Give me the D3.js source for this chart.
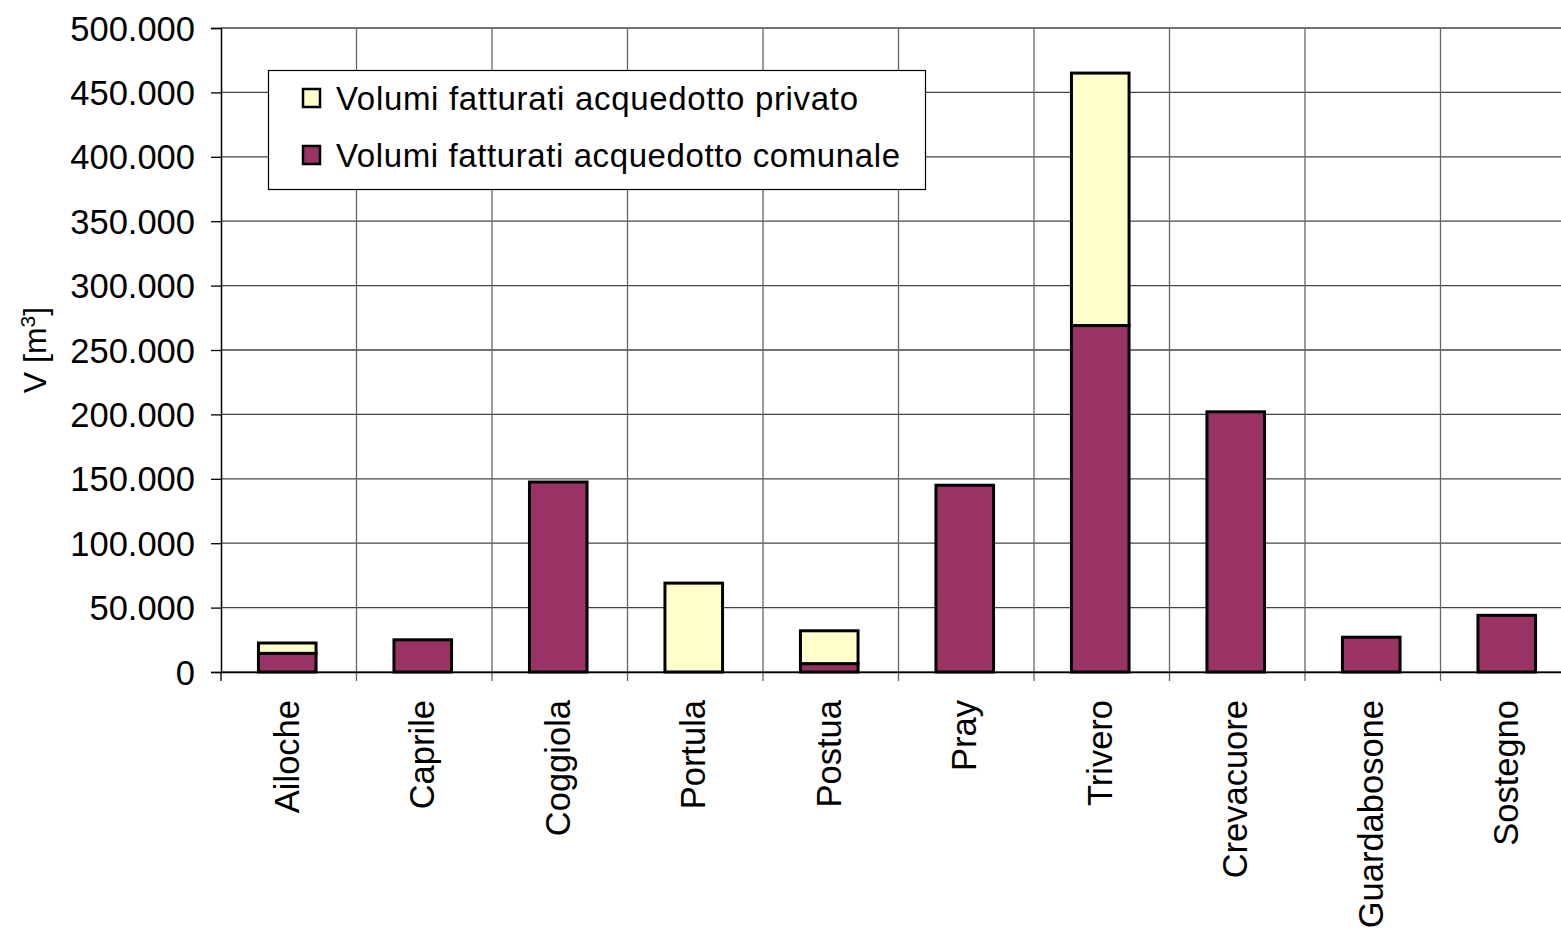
<!DOCTYPE html>
<html><head><meta charset="utf-8">
<script src="https://cdn.jsdelivr.net/npm/d3@7"></script>
<style>body{margin:0;background:#fff}svg{display:block}text{font-family:"Liberation Sans",Arial,sans-serif;fill:#000}</style>
</head><body>
<script>
const categories = ["Ailoche","Caprile","Coggiola","Portula","Postua","Pray","Trivero","Crevacuore","Guardabosone","Sostegno"];
const comunale = [14500, 25000, 147500, 0, 6500, 145000, 269000, 202000, 27000, 44000];
const privato  = [8000, 0, 0, 69000, 25500, 0, 196000, 0, 0, 0];
const seriesNames = ["Volumi fatturati acquedotto privato","Volumi fatturati acquedotto comunale"];
const yTicks = [0,50000,100000,150000,200000,250000,300000,350000,400000,450000,500000];

const W=1561,H=928;
const svg=d3.select("body").append("svg").attr("width",W).attr("height",H);
const x=d3.scaleBand().domain(categories).range([221,1576]);
const y=d3.scaleLinear().domain([0,500000]).range([672,28]);
const fmt=d=>d3.format(",")(d).replace(/,/g,".");

// grid
svg.append("g").selectAll("line").data(yTicks).join("line")
 .attr("x1",221).attr("x2",1576).attr("y1",d=>y(d)).attr("y2",d=>y(d))
 .attr("stroke","#444").attr("stroke-width",1.3);
svg.append("g").selectAll("line").data(categories.slice(1)).join("line")
 .attr("x1",d=>x(d)).attr("x2",d=>x(d)).attr("y1",28).attr("y2",681)
 .attr("stroke","#666").attr("stroke-width",1.3);

// y axis
const ya=svg.append("g").attr("transform","translate(221,0)")
 .call(d3.axisLeft(y).tickValues(yTicks).tickFormat(fmt).tickSize(10).tickPadding(16));
ya.select(".domain").attr("stroke","#000").attr("stroke-width",1.5);
ya.selectAll(".tick line").attr("stroke","#000").attr("stroke-width",1.3);
ya.selectAll(".tick text").attr("font-size",34.5).attr("font-family","Liberation Sans, Arial, sans-serif").attr("dy","0.35em");

// x axis
const xa=svg.append("g").attr("transform","translate(0,672)")
 .call(d3.axisBottom(x).tickSize(0).tickFormat(""));
xa.select(".domain").attr("stroke","#000").attr("stroke-width",1.5);
svg.append("line").attr("x1",221).attr("x2",221).attr("y1",672).attr("y2",681).attr("stroke","#000").attr("stroke-width",1.3);
svg.append("g").selectAll("text").data(categories).join("text")
 .attr("transform",d=>`translate(${x(d)+x.bandwidth()/2+10},700) rotate(-90)`)
 .attr("text-anchor","end").attr("font-size",34.5).text(d=>d);

// bars
const bw=x.bandwidth()*0.425;
const bx=d=>x(d)+(x.bandwidth()-bw)/2-1.5;
const gb=svg.append("g");
categories.forEach((c,i)=>{
  if(comunale[i]>0) gb.append("rect").attr("x",bx(c)).attr("width",bw)
    .attr("y",y(comunale[i])).attr("height",y(0)-y(comunale[i]))
    .attr("fill","#993366").attr("stroke","#000").attr("stroke-width",3);
  if(privato[i]>0) gb.append("rect").attr("x",bx(c)).attr("width",bw)
    .attr("y",y(comunale[i]+privato[i])).attr("height",y(comunale[i])-y(comunale[i]+privato[i]))
    .attr("fill","#FFFFCC").attr("stroke","#000").attr("stroke-width",3);
});

// y title
svg.append("text").attr("transform","translate(46,350) rotate(-90)").attr("text-anchor","middle")
 .attr("font-size",32).html('V [m<tspan dy="-11" font-size="21">3</tspan><tspan dy="11">]</tspan>');

// legend
const lg=svg.append("g");
lg.append("rect").attr("x",268.5).attr("y",70.5).attr("width",657).attr("height",119).attr("fill","#fff").attr("stroke","#000").attr("stroke-width",1.2);
const cols=["#FFFFCC","#993366"];
const widths=[522,564];
seriesNames.forEach((s,i)=>{
  const cy=98+i*57;
  lg.append("rect").attr("x",303).attr("y",cy-9).attr("width",17).attr("height",18).attr("fill",cols[i]).attr("stroke","#000").attr("stroke-width",2.5);
  lg.append("text").attr("x",336).attr("y",cy).attr("dy","0.36em").attr("font-size",33)
    .attr("textLength",widths[i]).attr("lengthAdjust","spacing").text(s);
});
</script>
</body></html>
